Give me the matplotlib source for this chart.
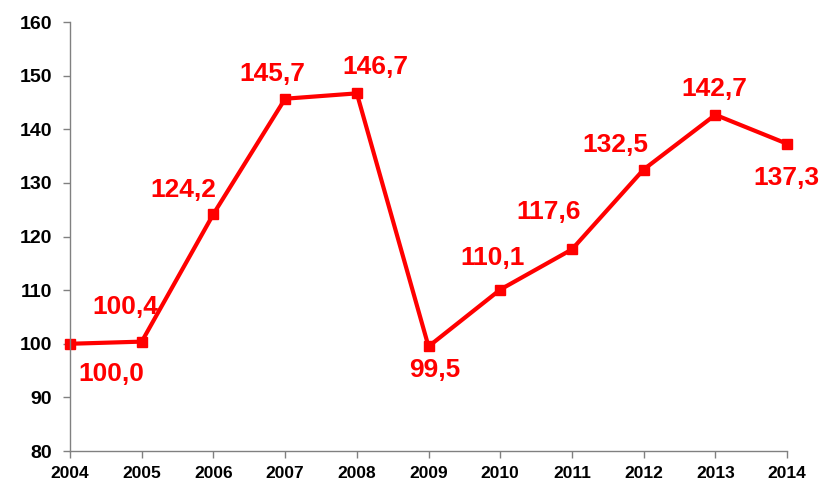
import matplotlib.pyplot as plt

years = [2004, 2005, 2006, 2007, 2008, 2009, 2010, 2011, 2012, 2013, 2014]
values = [100.0, 100.4, 124.2, 145.7, 146.7, 99.5, 110.1, 117.6, 132.5, 142.7, 137.3]
labels = ['100,0', '100,4', '124,2', '145,7', '146,7', '99,5', '110,1', '117,6', '132,5', '142,7', '137,3']
# label offsets in pixels
offsets = [(41, -30), (-16, 35), (-30, 24), (-13, 25), (19, 26), (6, -24),
           (-8, 32), (-23, 37), (-28, 25), (-1, 26), (-1, -34)]

plt.rcParams['font.family'] = ['Liberation Sans', 'DejaVu Sans']

fig = plt.figure(figsize=(8.2, 4.92), dpi=100)
ax = fig.add_axes([0.0854, 0.0833, 0.8744, 0.8719])

ax.plot(years, values, color='#FF0000', lw=3, marker='s', markersize=7.5, clip_on=False)
for x, y, t, off in zip(years, values, labels, offsets):
    ax.annotate(t, (x, y), xytext=off, textcoords='offset pixels',
                ha='center', va='center', color='#FF0000',
                fontsize=19, fontweight='bold')

ax.set_xlim(2004, 2014)
ax.set_ylim(80, 160)
ax.set_xticks(years)
ax.set_yticks(range(80, 161, 10))
ax.tick_params(color='#808080', length=5, width=1)
ax.tick_params(axis='y', labelsize=14, pad=8)
ax.tick_params(axis='x', labelsize=12.5, pad=6)
for lab in ax.get_xticklabels() + ax.get_yticklabels():
    lab.set_fontweight('bold')
for s in ['top', 'right']:
    ax.spines[s].set_visible(False)
for s in ['left', 'bottom']:
    ax.spines[s].set_color('#808080')
    ax.spines[s].set_linewidth(1)

plt.savefig('out.png', dpi=100)
